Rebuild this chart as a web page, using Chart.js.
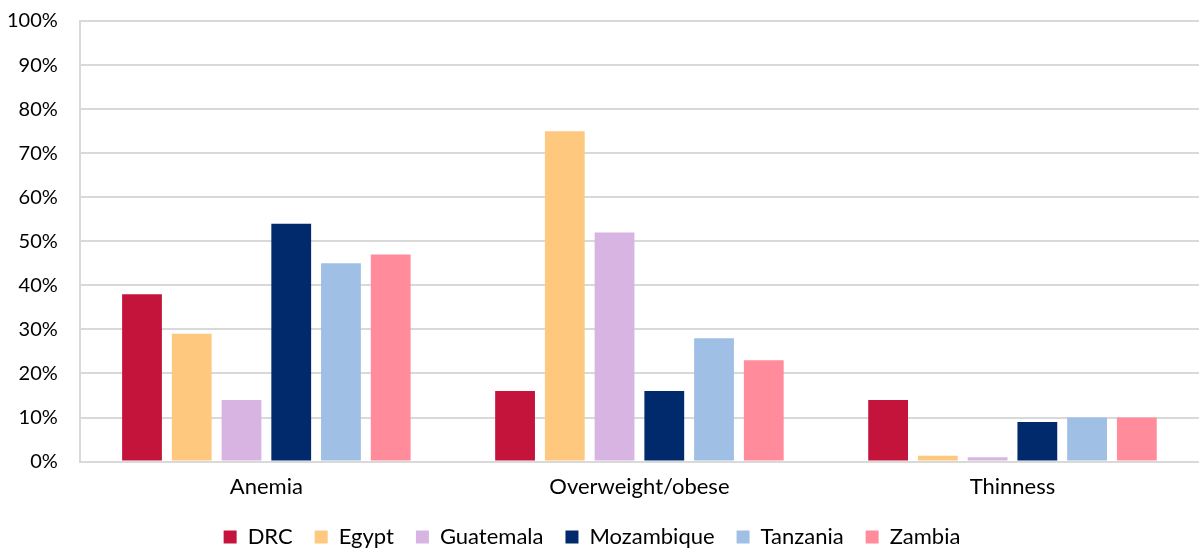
<!DOCTYPE html>
<html>
<head>
<meta charset="utf-8">
<script src="https://cdn.jsdelivr.net/npm/chart.js@4"></script>
<style>
  html, body { margin: 0; padding: 0; background: #fff; }
  #wrap { width: 1199px; height: 548px; }
</style>
</head>
<body>
<div id="wrap"><canvas id="c"></canvas></div>
<script>
// categorias e valores (%)
const categories = ['Anemia', 'Overweight/obese', 'Thinness'];
const countries = ['DRC', 'Egypt', 'Guatemala', 'Mozambique', 'Tanzania', 'Zambia'];
const drc = [38, 16, 14];
const egypt = [29, 75, 1.3];
const guatemala = [14, 52, 1];
const mozambique = [54, 16, 9];
const tanzania = [45, 28, 10];
const zambia = [47, 23, 10];
const colors = ['#c4143c', '#fec87f', '#d7b4e2', '#002a6c', '#9fbfe5', '#ff8b9b'];

const series = [drc, egypt, guatemala, mozambique, tanzania, zambia];

Chart.defaults.font.family = "'Lato', sans-serif";
Chart.defaults.color = '#000';

new Chart(document.getElementById('c'), {
  type: 'bar',
  data: {
    labels: categories,
    datasets: series.map((s, i) => ({
      label: countries[i],
      data: s,
      backgroundColor: colors[i],
      borderWidth: 0,
      barPercentage: 0.8,
      categoryPercentage: 0.8,
    })),
  },
  options: {
    responsive: true,
    maintainAspectRatio: false,
    animation: false,
    layout: { padding: { top: 21, right: 0, left: -15, bottom: -10 } },
    plugins: {
      legend: {
        position: 'bottom',
        labels: { boxWidth: 13, boxHeight: 13, padding: 22, font: { size: 22 }, color: '#000' },
      },
      tooltip: { enabled: false },
    },
    scales: {
      x: {
        grid: { display: false },
        border: { color: '#d9d9d9', width: 2 },
        ticks: { font: { size: 22 }, color: '#000', padding: 4 },
      },
      y: {
        min: 0, max: 100,
        ticks: { stepSize: 10, font: { size: 20 }, color: '#000', padding: 22, callback: (v) => v + '%' },
        grid: { color: '#d9d9d9', lineWidth: 2, drawTicks: false },
        border: { color: '#d9d9d9', width: 2 },
        // sem folga extra do rotulo no topo/base
        afterFit: (s) => { s.paddingTop = 0; s.paddingBottom = 0; },
      },
    },
  },
});
</script>
</body>
</html>
